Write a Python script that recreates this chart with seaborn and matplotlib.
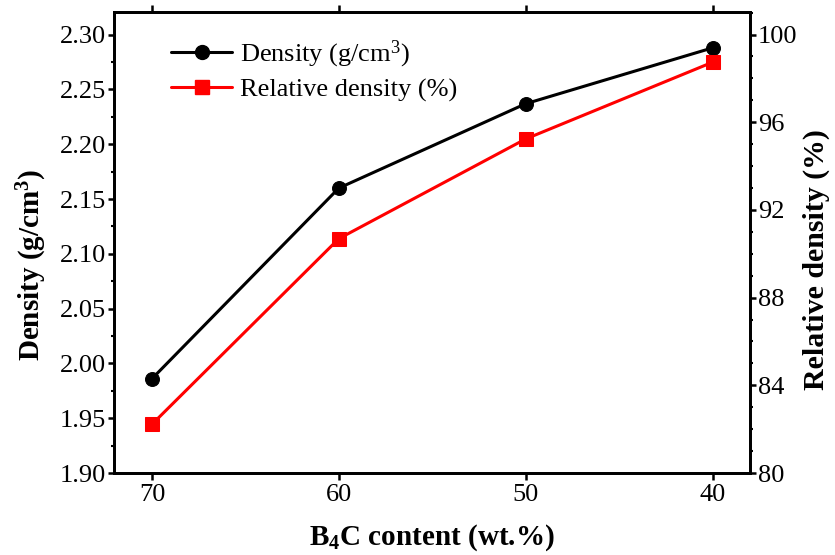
import matplotlib
matplotlib.use("Agg")
import matplotlib.pyplot as plt
import seaborn as sns
import pandas as pd
from matplotlib.ticker import MultipleLocator, FormatStrFormatter
from matplotlib.lines import Line2D

b4c_content = [70, 60, 50, 40]
density = [1.986, 2.160, 2.237, 2.288]
relative_density = [82.22, 90.69, 95.24, 98.74]

sns.set_style("ticks")
plt.rcParams['font.family'] = ['Liberation Serif', 'DejaVu Serif']
plt.rcParams['mathtext.fontset'] = 'custom'
plt.rcParams['mathtext.rm'] = 'Liberation Serif'
plt.rcParams['mathtext.it'] = 'Liberation Serif:italic'
plt.rcParams['mathtext.bf'] = 'Liberation Serif:bold'
for k in ['text.color', 'axes.labelcolor', 'xtick.color', 'ytick.color', 'axes.edgecolor']:
    plt.rcParams[k] = 'black'

df = pd.DataFrame({"b4c": b4c_content, "density": density, "rel": relative_density})

fig = plt.figure(figsize=(8.35, 5.55), dpi=100)
ax = fig.add_axes([114/835, 1-473/555, (750-114)/835, (473-12)/555])
ax2 = ax.twinx()

sns.lineplot(data=df, x="b4c", y="density", ax=ax, color="black", marker="o",
             markersize=10, linewidth=2.2, markeredgecolor="black")
sns.lineplot(data=df, x="b4c", y="rel", ax=ax2, color="#ff0000", marker="s",
             markersize=9.5, linewidth=2.2, markeredgecolor="#ff0000")

ax.set_xlim(72.03, 38.0)
ax.set_ylim(1.90, 2.3207)
ax2.set_ylim(80, 101.03)

ax.set_xticks([70, 60, 50, 40])
ax.yaxis.set_major_locator(MultipleLocator(0.05))
ax.yaxis.set_minor_locator(MultipleLocator(0.025))
ax.yaxis.set_major_formatter(FormatStrFormatter('%.2f'))
ax2.yaxis.set_major_locator(MultipleLocator(4))
ax2.yaxis.set_minor_locator(MultipleLocator(1))

for a in (ax, ax2):
    for s in a.spines.values():
        s.set_linewidth(2.0)
        s.set_color("black")
        s.set_visible(True)

ax.tick_params(axis='x', which='major', direction='out', length=5, width=1.8,
               labelsize=19, pad=3, top=True, colors='black')
ax.tick_params(axis='y', which='major', direction='out', length=4.5, width=1.8,
               labelsize=19, pad=1, colors='black')
ax.tick_params(axis='y', which='minor', direction='out', length=2.5, width=1.5, left=True)
ax2.tick_params(axis='y', which='major', direction='out', length=4.5, width=1.8,
                labelsize=19, pad=1, colors='black')
ax2.tick_params(axis='y', which='minor', direction='out', length=2.5, width=1.5, right=True)

ax.set_xlabel(r"B$_{\mathbf{4}}$C content (wt.%)", fontsize=21, fontweight='bold', labelpad=12)
ax.set_ylabel(r"Density (g/cm$^{\mathbf{3}}$)", fontsize=21, fontweight='bold',
              labelpad=8, y=0.451)
ax2.set_ylabel("Relative density (%)", fontsize=21.5, fontweight='bold',
               labelpad=4, y=0.464)

handles = [
    Line2D([], [], color='black', marker='o', markersize=10, linewidth=2.2),
    Line2D([], [], color='#ff0000', marker='s', markersize=9.5, linewidth=2.2),
]
labels = [r"Density (g/cm$^3$)", "Relative density (%)"]
ax2.legend(handles, labels, loc='upper left', bbox_to_anchor=(0.065, 0.977),
           frameon=False, fontsize=19, handlelength=2.3, handletextpad=0.3,
           labelspacing=0.3, borderaxespad=0.2)

fig.savefig("out.png", dpi=100)
